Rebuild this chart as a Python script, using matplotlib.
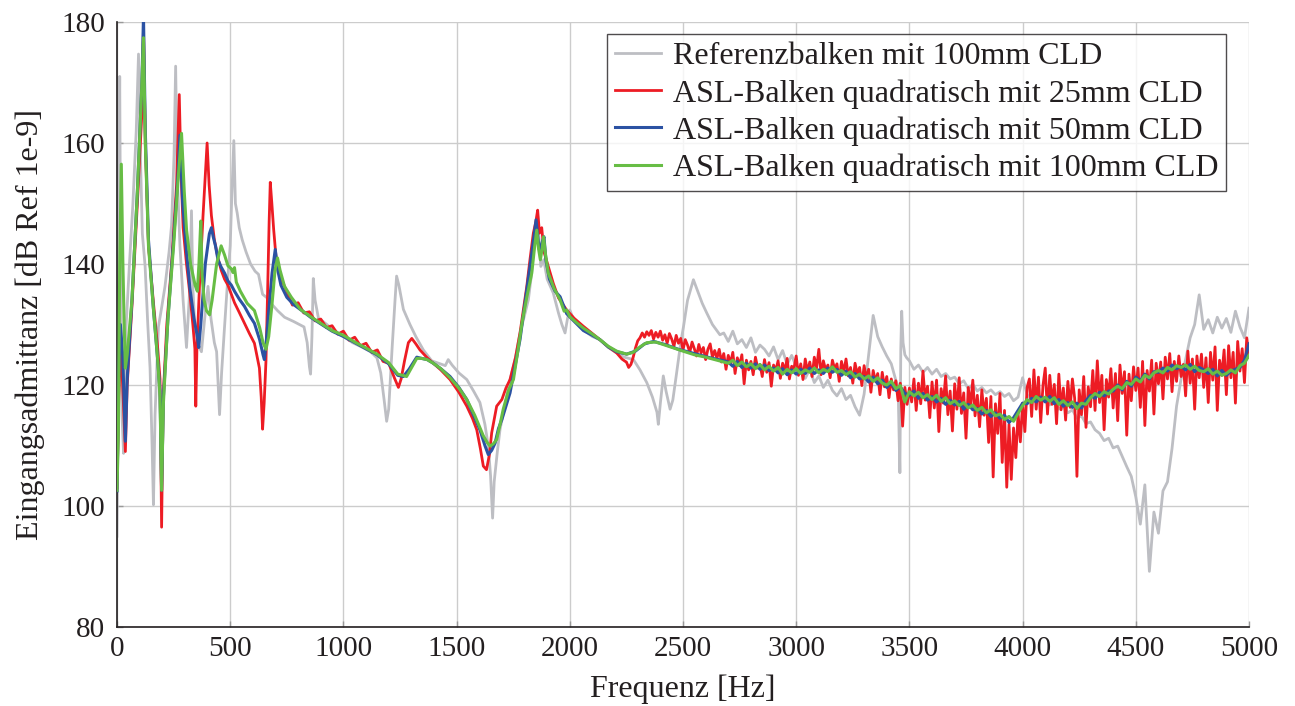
import numpy as np
import matplotlib
matplotlib.use("Agg")
import matplotlib.pyplot as plt

plt.rcParams['font.family'] = ['Liberation Serif', 'DejaVu Serif']

# ---------------------------------------------------------------------------
# Measured input admittance (dB re 1e-9) over frequency (Hz)
# ---------------------------------------------------------------------------

# Reference beam, 100 mm CLD -- low/mid range (irregular sampling)
ref_f = [0, 4, 8, 12, 16, 22, 29, 35, 40, 55, 70, 85, 95, 102, 112, 124, 136, 146, 155, 161,
         168, 183, 198, 212, 230, 241, 252, 259, 266, 278, 292, 307, 320, 329, 335, 345, 360,
         373, 390, 402, 415, 430, 440, 448, 453, 462, 475, 490, 500, 507, 516, 523, 531, 540,
         553, 570, 590, 610, 625, 643, 660, 680, 709, 740, 780, 826, 840, 850, 855, 861, 867,
         875, 890, 910, 940, 970, 1001, 1040, 1080, 1120, 1148, 1165, 1180, 1191, 1200, 1215,
         1228, 1235, 1245, 1265, 1294, 1320, 1353, 1390, 1420, 1450, 1463, 1480, 1510, 1545,
         1575, 1603, 1625, 1640, 1650, 1659, 1666, 1680, 1692, 1710, 1736, 1760, 1780, 1800,
         1817, 1830, 1839, 1850, 1858, 1866, 1872, 1885, 1900, 1927, 1950, 1965, 1979, 1990,
         2000, 2015, 2030, 2060, 2100, 2133, 2170, 2207, 2240, 2281, 2310, 2340, 2365, 2385,
         2391, 2400, 2413, 2425, 2443, 2455, 2470, 2490, 2502, 2520, 2546, 2565, 2585, 2605,
         2630, 2663]
ref_v = [95, 112, 150, 171, 140, 115, 108.7, 122, 129.6, 140, 149.8, 162, 174.7, 160, 145,
         139.7, 130, 122.8, 110, 100.2, 115, 129.6, 133, 136.3, 142, 146.4, 158, 172.7, 155,
         143, 134, 126.2, 135, 148.8, 136, 129, 126.5, 125.5, 132, 136.3, 131, 127, 125.5,
         119, 115.1, 122, 129.6, 138, 143, 151.1, 160.4, 150, 148.4, 146, 144, 142, 140,
         138.8, 138.3, 135, 134.5, 133.5, 132.3, 131.2, 130.5, 129.6, 127, 123, 121.8, 128,
         137.6, 134, 131, 130.5, 129.6, 128.8, 128, 127, 126.3, 125.5, 124.5, 122, 117.5,
         114, 116, 126, 134, 138, 136.5, 132.5, 130, 128, 125.8, 124, 123.6, 123.2, 124.2,
         123.3, 122, 120.9, 119, 117.1, 113.5, 109.9, 105, 98, 104, 109, 112.7, 116, 120.9,
         124.5, 128.6, 131.5, 134.1, 138, 141.8, 145, 147.9, 143, 139.6, 140.7, 137.5, 135.2,
         131.9, 130, 128.6, 131, 132.4, 131, 130.5, 129.1, 128, 127.5, 126.2, 125.3, 124.6,
         124.2, 122.5, 120.4, 118, 115.5, 113.5, 117, 121.5, 119, 116.0, 117.5, 121.5, 127,
         129.6, 134, 137.4, 135.5, 133.5, 131.9, 130, 128.3]

# Reference beam -- 2680 ... 3440 Hz, 20 Hz steps
ref_mid_v = [128.6, 127.2, 128.9, 126.8, 127.5, 126.2, 127.8, 125.4, 126.6, 125.9,
             124.8, 126.3, 124.2, 125.7, 123.4, 124.9, 123.0, 122.3, 121.1, 122.6,
             120.4, 121.5, 119.6, 120.8, 119.1, 118.2, 119.4, 117.6, 118.3, 116.4,
             115.0, 118.5, 125.0, 131.5, 128.0, 126.3, 124.8, 123.5, 120.8]

# Reference beam -- narrow anti-resonance near 3460 Hz
ref_spike_f = [3450, 3458, 3462, 3466, 3472, 3480, 3488]
ref_spike_v = [119.8, 105.5, 126, 132.2, 127, 125, 124.5]

# Reference beam -- 3500 ... 5000 Hz, 20 Hz steps
ref_hf_v = [124.0, 122.6, 123.3, 122.1, 122.9, 121.8, 122.6, 121.4, 121.9, 121.0,
            121.3, 120.2, 120.7, 119.4, 120.1, 119.0, 119.6, 118.7, 119.2, 118.4,
            118.9, 118.1, 118.6, 117.4, 118.0, 121.2, 118.4, 117.6, 118.2, 117.1,
            117.6, 116.7, 117.2, 116.0, 116.5, 115.4, 115.9, 114.5, 114.9, 113.6,
            113.9, 112.6, 112.0, 110.8, 111.2, 109.6, 109.9, 108.2, 106.5, 104.9,
            101.5, 97.0, 103.5, 89.2, 99.0, 95.5, 102.5, 104.0, 109.5, 116.5,
            121.0, 124.2, 127.8, 130.0, 134.9, 129.2, 130.8, 128.6, 131.2, 129.4,
            131.0, 128.7, 132.2, 129.6, 127.8, 132.7]

# ASL beam, 25 mm CLD -- up to 2245 Hz
asl25_f = [0, 8, 15, 25, 37, 45, 66, 90, 110, 117, 125, 139, 160, 180, 190, 197, 204, 220,
           241, 263, 275, 283, 292, 307, 322, 335, 344, 348, 353, 365, 380, 398, 407, 417,
           430, 446, 460, 475, 490, 505, 519, 540, 563, 585, 607, 620, 629, 637, 643, 650,
           658, 665, 672, 677, 684, 692, 705, 724, 750, 775, 800, 825, 850, 875, 900, 925,
           950, 975, 1000, 1025, 1050, 1075, 1100, 1125, 1150, 1175, 1200, 1225, 1243, 1255,
           1270, 1287, 1302, 1320, 1338, 1370, 1397, 1430, 1471, 1510, 1545, 1570, 1589,
           1605, 1618, 1632, 1645, 1655, 1677, 1700, 1718, 1736, 1760, 1780, 1795, 1810,
           1825, 1839, 1850, 1858, 1866, 1876, 1886, 1905, 1927, 1950, 1986, 2020, 2060,
           2100, 2133, 2170, 2207, 2230, 2245]
asl25_v = [103, 118, 127, 120, 109, 120, 133, 150, 165, 179, 160, 143, 134, 126, 121, 96.5,
           118, 130, 140, 153, 168, 155, 146, 140, 135, 130, 126, 116.5, 126, 137, 148, 160,
           153, 148, 144, 141, 139, 137.5, 136.5, 135, 133.6, 132, 130.2, 128.5, 126.9,
           124.5, 122.8, 118, 112.7, 117, 124, 135, 147, 153.5, 150, 145.7, 140, 137.7,
           135.4, 133.2, 133.6, 131.9, 132.1, 130.6, 130.9, 129.5, 129.8, 128.4, 128.9,
           127.4, 127.9, 126.5, 126.9, 125.4, 125.8, 123.9, 123.6, 121.2, 119.6, 121, 124,
           127, 127.7, 126.8, 125.8, 124.5, 123.6, 122.5, 120.9, 118.8, 116.5, 114.5, 112.6,
           109.5, 106.6, 106.0, 108.5, 112.1, 116.5, 117.6, 119.5, 120.9, 124.5, 128.6,
           132.5, 136.3, 141, 145.1, 147, 148.9, 145.1, 146, 142, 139.6, 136.8, 134.4, 132.4,
           131, 129.7, 128.5, 127.5, 126.3, 125.3, 124.3, 123.9]

# ASL beam, 25 mm CLD -- 2250 ... 5000 Hz, 10 Hz steps
asl25_hf_v = [123.8, 122.9, 123.4, 124.6, 126.1, 127.3, 127.8, 128.6, 127.9, 128.8,
              128.2, 129.0, 127.6, 128.7, 127.9, 128.9, 127.4, 128.3, 126.9, 128.5,
              127.6, 126.4, 128.2, 126.9, 127.7, 125.8, 127.5, 126.6, 125.4, 127.1,
              126.0, 124.8, 126.7, 125.3, 126.2, 124.2, 125.9, 126.8, 124.6, 125.7,
              124.4, 125.9, 123.8, 125.2, 122.6, 124.9, 123.6, 125.4, 121.9, 124.5,
              123.2, 125.0, 120.2, 124.1, 122.5, 123.9, 121.7, 124.6, 122.8, 123.4,
              121.4, 124.2, 122.1, 123.7, 119.8, 123.3, 122.4, 124.0, 121.1, 123.6,
              122.3, 124.4, 121.0, 123.1, 122.7, 124.8, 121.6, 123.5, 120.9, 124.3,
              122.2, 123.8, 121.4, 124.6, 122.8, 125.9, 121.7, 124.0, 122.5, 123.3,
              121.2, 124.1, 122.6, 123.5, 120.6, 123.9, 122.1, 124.3, 121.5, 122.9,
              120.3, 123.6, 121.8, 122.9, 119.9, 123.2, 121.0, 122.6, 118.8, 122.4,
              120.6, 121.9, 118.4, 122.1, 119.7, 121.4, 117.9, 121.0, 119.2, 120.7,
              117.4, 120.3, 113.2, 119.6, 116.8,
              119.5, 117.2, 121.0, 115.8, 120.3, 116.9, 122.3, 117.5, 119.8, 114.6, 120.5,
              116.2, 120.8, 112.3, 119.4, 117.0, 121.5, 115.1, 119.0, 112.4, 120.2,
              116.0, 121.2, 115.3, 118.7, 111.2, 119.6, 116.4, 120.8, 114.9, 118.3,
              113.1, 119.2, 115.0, 117.8, 110.5, 118.1, 104.8, 116.9, 112.0, 118.6,
              107.2, 115.8, 103.1, 113.5, 104.4, 112.9, 108.0, 115.3, 110.6, 117.0,
              112.3, 119.6, 121.0, 114.8, 122.5, 116.0, 121.3, 113.8, 119.9, 122.8,
              115.2, 121.6, 116.8, 120.1, 113.6, 121.8, 115.9, 119.5, 114.2, 120.6,
              116.3, 121.0, 117.8, 104.9, 119.2, 115.1, 121.4, 113.0, 119.7, 116.4,
              122.4, 115.8, 124.0, 117.1, 121.6, 112.6, 120.9, 118.0, 122.7, 116.2,
              121.9, 114.1, 123.3, 118.6, 122.2, 111.7, 121.8, 117.4, 123.0, 119.1,
              122.8, 116.3, 123.9, 113.3, 122.4, 119.0, 124.1, 115.2, 123.6, 120.2,
              123.8, 117.7, 124.6, 121.0, 125.2, 118.9, 123.9, 120.6, 124.8, 121.4,
              123.4, 118.2, 125.6, 120.3, 124.3, 116.0, 124.8, 121.2, 125.1, 119.6,
              124.5, 117.1, 125.4, 120.8, 126.3, 115.8, 124.1, 121.6, 125.8, 118.4,
              126.5, 121.2, 125.4, 117.0, 127.2, 122.3, 126.0, 120.4, 127.8, 124.6]

# ASL beam, 50 mm CLD -- up to 2680 Hz
asl50_f = [0, 8, 15, 25, 37, 45, 66, 90, 110, 117, 125, 139, 160, 180, 190, 197, 205, 225,
           250, 270, 278, 290, 307, 322, 340, 355, 361, 370, 390, 408, 417, 425, 435, 446,
           460, 475, 490, 505, 519, 540, 563, 585, 607, 630, 645, 651, 660, 672, 685, 699,
           710, 724, 750, 780, 820, 855, 900, 950, 1001, 1050, 1100, 1148, 1200, 1240, 1265,
           1290, 1324, 1345, 1370, 1397, 1430, 1471, 1510, 1545, 1575, 1603, 1625, 1640,
           1655, 1670, 1685, 1700, 1718, 1736, 1760, 1780, 1800, 1824, 1840, 1851, 1860,
           1868, 1877, 1886, 1895, 1910, 1935, 1957, 1986, 2020, 2060, 2100, 2133, 2170,
           2207, 2251, 2290, 2330, 2370, 2420, 2480, 2550, 2620, 2680]
asl50_v = [102.5, 122, 130, 125, 110.7, 121, 134, 152, 170, 181, 162, 144, 133, 124, 119,
           102.6, 118, 131, 144, 155, 161.3, 150, 142, 136, 131, 128, 126.2, 130, 140, 145,
           146, 144.5, 143, 140.7, 139.5, 138.5, 137.2, 136.5, 135.5, 134.2, 133, 131.5,
           130.2, 127.5, 125, 124.2, 127.5, 133, 138.5, 142.4, 139, 136.5, 134.5, 133.3,
           132.2, 131.2, 130.1, 128.9, 128, 127, 126, 125, 123.5, 121.6, 121.4, 122.6,
           124.6, 124.4, 124.2, 123.6, 122.7, 121.4, 119.6, 117.6, 115, 112.6, 110, 108.5,
           109.2, 110.4, 112.8, 114.3, 116.5, 118.7, 123.5, 127.5, 133, 139.6, 144, 147.3,
           144, 141.8, 143.5, 144.5, 140.5, 137.5, 135.5, 134.6, 131.8, 130.5, 129, 128.2,
           127.5, 126.3, 125.5, 125.1, 125.6, 126.8, 127.2, 126.7, 125.9, 125.2, 124.5,
           124.0]

# ASL beam, 50 mm CLD -- 2700 ... 5000 Hz, 20 Hz steps
asl50_hf_v = [123.8, 123.1, 123.9, 122.9, 123.6, 122.8, 123.5, 122.6, 123.3, 122.4,
              122.8, 122.0, 122.7, 121.7, 122.5, 121.8, 122.6, 121.9, 122.8, 121.9,
              122.5, 121.9, 122.8, 122.1, 122.6, 121.6, 122.3, 121.2, 121.9, 121.0,
              121.4, 120.5, 121.3, 120.2, 120.8, 119.6, 120.3, 119.1, 119.7, 118.6,
              118.3, 119.0, 117.8, 118.6, 117.5, 118.1, 117.2, 117.8, 116.8, 117.5,
              116.7, 117.3, 116.0, 116.8, 115.9, 116.1, 115.2, 115.8, 114.8, 115.4,
              114.5, 115.0, 113.8, 114.6, 115.8, 117.0, 116.9, 117.8, 117.2, 118.0,
              117.2, 118.1, 116.9, 117.6, 116.5, 117.1, 116.3, 117.0, 116.2, 117.4,
              118.3, 117.8, 118.8, 118.2, 119.0, 119.0, 120.0, 119.2, 120.6, 119.8,
              121.3, 120.7, 121.8, 121.0, 122.2, 122.1, 122.8, 122.3, 123.3, 122.7,
              123.1, 122.5, 123.4, 122.2, 122.9, 122.5, 121.9, 122.6, 121.5, 122.4,
              121.6, 122.3, 122.6, 122.9, 124.1, 126.8]

# ASL beam, 100 mm CLD -- up to 2650 Hz
asl100_f = [0, 6, 12, 19, 26, 32, 37, 45, 66, 90, 108, 117, 125, 139, 160, 180, 190, 197,
            205, 225, 250, 270, 285, 297, 307, 325, 345, 355, 362, 370, 376, 385, 395, 409,
            420, 440, 460, 475, 490, 505, 512, 519, 527, 545, 575, 607, 630, 645, 658, 670,
            685, 698, 709, 720, 740, 770, 810, 855, 900, 950, 1001, 1050, 1100, 1148, 1200,
            1240, 1262, 1279, 1300, 1324, 1345, 1370, 1397, 1430, 1471, 1510, 1545, 1580,
            1618, 1635, 1648, 1663, 1677, 1692, 1706, 1730, 1751, 1770, 1790, 1810, 1832,
            1845, 1854, 1862, 1870, 1878, 1884, 1893, 1905, 1930, 1957, 1975, 1986, 2000,
            2030, 2060, 2100, 2133, 2170, 2207, 2251, 2280, 2310, 2340, 2380, 2420, 2460,
            2500, 2550, 2600, 2650]
asl100_v = [102.6, 112, 140, 156.5, 140, 129.6, 122.8, 125, 134, 152, 168, 177.4, 160, 143,
            133, 124, 118, 102.6, 117, 131, 143, 154, 161.6, 152, 145.7, 140, 136.5, 135.5,
            140, 147.1, 138, 134, 132.3, 131.6, 134, 140, 143, 141.5, 139.7, 139.2, 138.6,
            139.4, 137, 135.5, 133.5, 132.3, 129.5, 127, 125.9, 128, 133.5, 139, 141, 139,
            136.3, 134.5, 132.5, 131.3, 130.2, 129, 128.2, 127.1, 126.1, 125.1, 123.7, 121.8,
            121.6, 121.4, 122.8, 124.4, 124.4, 124.2, 123.6, 122.7, 121.2, 119.5, 117.6,
            115, 111.6, 110.5, 109.9, 110.3, 111, 113.5, 116, 119.2, 120.9, 125.5, 130.5,
            134.5, 138.5, 143, 145.6, 142.5, 140.7, 142.6, 144.5, 141.5, 138.5, 136, 134.1,
            132.2, 132.4, 131.3, 130.3, 129.4, 128.4, 127.5, 126.4, 125.6, 125.1, 125.4,
            126.3, 127.0, 127.1, 126.6, 126.1, 125.6, 125.0, 124.6, 124.1]

# ASL beam, 100 mm CLD -- 2700 ... 5000 Hz, 20 Hz steps
asl100_hf_v = [123.6, 124.1, 123.2, 123.8, 123.0, 123.5, 122.7, 123.4, 122.5, 123.1,
               122.3, 122.9, 121.8, 122.6, 122.0, 122.7, 121.9, 122.5, 122.1, 122.8,
               122.0, 122.6, 122.2, 123.0, 122.1, 122.4, 121.7, 122.2, 121.3, 121.8,
               121.0, 121.5, 120.6, 121.2, 120.3, 120.0, 120.6, 119.4, 119.9, 117.2,
               118.9, 118.2, 118.8, 117.9, 118.4, 117.6, 118.3, 117.3, 117.9, 116.9,
               117.4, 116.6, 117.1, 116.2, 116.7, 115.8, 116.3, 115.4, 115.9, 114.9,
               115.2, 114.3, 114.8, 114.0, 115.3, 116.6, 117.6, 117.1, 118.1, 117.5,
               118.0, 117.3, 117.9, 116.8, 117.4, 116.6, 117.2, 116.1, 117.0, 116.8,
               117.9, 118.6, 118.1, 118.9, 118.5, 119.3, 119.8, 119.4, 120.4, 120.1,
               121.0, 120.5, 121.6, 121.2, 122.0, 122.4, 122.0, 122.9, 122.5, 123.2,
               122.9, 123.3, 122.6, 123.1, 122.4, 122.2, 122.7, 121.8, 122.3, 121.6,
               121.9, 122.5, 122.0, 123.2, 123.6, 124.9]

labels = ["Referenzbalken mit 100mm CLD",
          "ASL-Balken quadratisch mit 25mm CLD",
          "ASL-Balken quadratisch mit 50mm CLD",
          "ASL-Balken quadratisch mit 100mm CLD"]

x_ticks = list(range(0, 5001, 500))
y_ticks = list(range(80, 181, 20))

# ---------------------------------------------------------------------------
# Assemble full series (uniformly sampled tails on fixed frequency grids)
# ---------------------------------------------------------------------------
ref_x = np.concatenate([ref_f, np.arange(2680, 3441, 20), ref_spike_f,
                        np.arange(3500, 5001, 20)])
ref_y = np.concatenate([ref_v, ref_mid_v, ref_spike_v, ref_hf_v])

a25_x = np.concatenate([asl25_f, np.arange(2250, 5001, 10)])
a25_y = np.concatenate([asl25_v, asl25_hf_v])

a50_x = np.concatenate([asl50_f, np.arange(2700, 5001, 20)])
a50_y = np.concatenate([asl50_v, asl50_hf_v])

a100_x = np.concatenate([asl100_f, np.arange(2700, 5001, 20)])
a100_y = np.concatenate([asl100_v, asl100_hf_v])

# ---------------------------------------------------------------------------
# Plot
# ---------------------------------------------------------------------------
fig = plt.figure(figsize=(12.95, 7.06), dpi=100)
ax = fig.add_axes([117 / 1295, 1 - 627 / 706, (1249 - 117) / 1295, (627 - 22) / 706])

c_ref = "#bdbec3"
c_red = "#ed1c24"
c_blue = "#2b52a3"
c_green = "#67bd45"
c_text = "#231f20"

ax.plot(ref_x, ref_y, color=c_ref, lw=2.0, label=labels[0], zorder=2)
ax.plot(a25_x, a25_y, color=c_red, lw=2.0, label=labels[1], zorder=3)
ax.plot(a50_x, a50_y, color=c_blue, lw=2.2, label=labels[2], zorder=4)
ax.plot(a100_x, a100_y, color=c_green, lw=2.2, label=labels[3], zorder=5)

ax.set_xlim(0, 5000)
ax.set_ylim(80, 180)
ax.set_xticks(x_ticks)
ax.set_yticks(y_ticks)

ax.grid(True, color="#cccccc", lw=1.0, zorder=0)
ax.set_axisbelow(True)
for side in ("top", "right"):
    ax.spines[side].set_visible(False)
for side in ("left", "bottom"):
    ax.spines[side].set_color(c_text)
    ax.spines[side].set_linewidth(1.2)

ax.tick_params(axis="both", direction="in", length=4, width=1, color="#999999",
               labelsize=21, labelcolor=c_text)
ax.tick_params(axis="x", pad=6.5)
ax.tick_params(axis="y", pad=8.5)

ax.set_xlabel("Frequenz [Hz]", fontsize=23, color=c_text, labelpad=9)
ax.set_ylabel("Eingangsadmittanz [dB Ref 1e-9]", fontsize=23, color=c_text, labelpad=12)

leg = ax.legend(loc="upper right", bbox_to_anchor=((1226 - 117) / 1132, 1 - 12 / 605),
                borderaxespad=0, prop={"size": 23}, frameon=True, fancybox=False,
                handlelength=1.45, handletextpad=0.35, labelspacing=0.24,
                borderpad=0.25, edgecolor=c_text)
leg.get_frame().set_linewidth(1.0)
for txt in leg.get_texts():
    txt.set_color(c_text)

fig.savefig("out.png", dpi=100)
